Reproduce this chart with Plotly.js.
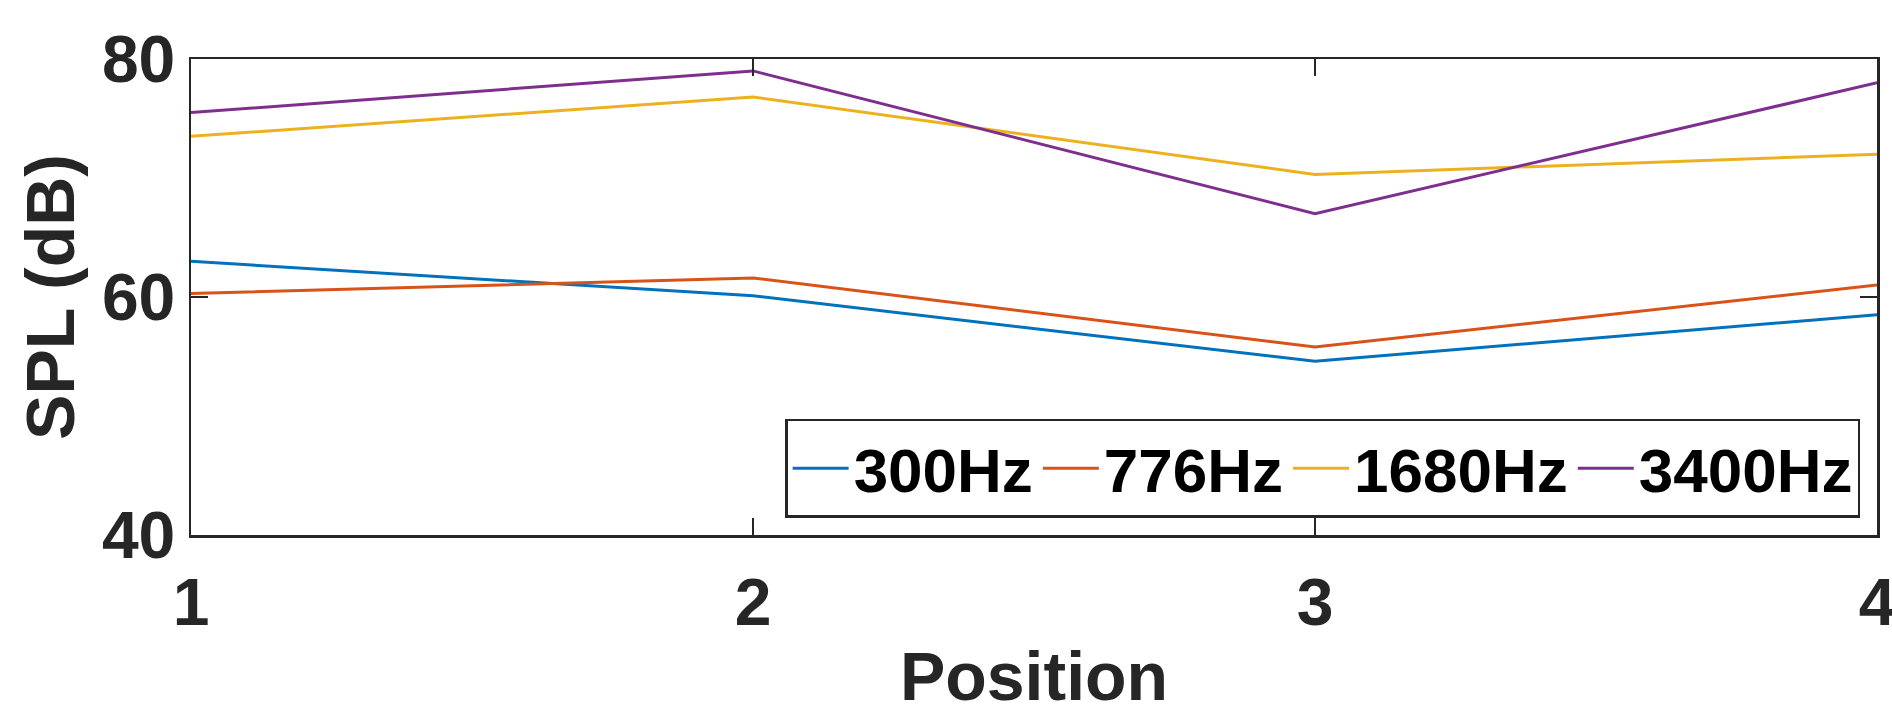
<!DOCTYPE html>
<html>
<head>
<meta charset="utf-8">
<script src="https://cdn.plot.ly/plotly-3.0.1.min.js"></script>
<style>html,body{margin:0;padding:0;background:#fff;}#chart{width:1892px;height:714px;}</style>
</head>
<body>
<div id="chart"></div>
<script>
const positions = [1, 2, 3, 4];
const seriesNames = ["300Hz", "776Hz", "1680Hz", "3400Hz"];
const spl300 = [63.0, 60.1, 54.6, 58.5];
const spl776 = [60.3, 61.6, 55.8, 61.0];
const spl1680 = [73.5, 76.8, 70.3, 72.0];
const spl3400 = [75.5, 79.0, 67.0, 78.0];
const colors = ["#0072BD", "#D95319", "#EDB120", "#7E2F8E"];
const xTicks = [1, 2, 3, 4];
const yTicks = [40, 60, 80];

const seriesValues = [spl300, spl776, spl1680, spl3400];
const traces = seriesValues.map((vals, i) => ({
  x: positions, y: vals, name: seriesNames[i], type: "scatter", mode: "lines",
  line: {color: colors[i], width: 3}
}));

const axisFont = {family: "Liberation Sans, Arial, sans-serif", size: 66, color: "#262626", weight: "bold"};
const layout = {
  width: 1892, height: 714,
  margin: {l: 191, r: 15, t: 59, b: 179, pad: 0},
  paper_bgcolor: "#ffffff", plot_bgcolor: "#ffffff",
  showlegend: true,
  legend: {
    orientation: "h", x: 0.99, xanchor: "right", y: 0.036, yanchor: "bottom",
    bgcolor: "#ffffff", bordercolor: "#262626", borderwidth: 2.5,
    font: {family: "Liberation Sans, Arial, sans-serif", size: 62, color: "#000000", weight: "bold"},
    itemwidth: 56, tracegroupgap: 0
  },
  xaxis: {
    range: [1, 4], tickvals: xTicks, ticktext: xTicks.map(String),
    showgrid: false, zeroline: false, showline: true, linecolor: "#262626", linewidth: 2.5,
    mirror: "ticks", ticks: "inside", ticklen: 17, tickwidth: 2.5, tickcolor: "#262626",
    tickfont: axisFont, ticklabelstandoff: 8, ticklabeloverflow: "allow",
    title: {text: "Position", font: {family: "Liberation Sans, Arial, sans-serif", size: 68, color: "#262626", weight: "bold"}, standoff: 20}
  },
  yaxis: {
    range: [40, 80], tickvals: yTicks, ticktext: yTicks.map(String),
    showgrid: false, zeroline: false, showline: true, linecolor: "#262626", linewidth: 2.5,
    mirror: "ticks", ticks: "inside", ticklen: 17, tickwidth: 2.5, tickcolor: "#262626",
    tickfont: axisFont, ticklabeloverflow: "allow",
    title: {text: "SPL (dB)", font: {family: "Liberation Sans, Arial, sans-serif", size: 68, color: "#262626", weight: "bold"}, standoff: 5}
  }
};
Plotly.newPlot("chart", traces, layout, {displayModeBar: false, staticPlot: true});
</script>
</body>
</html>
